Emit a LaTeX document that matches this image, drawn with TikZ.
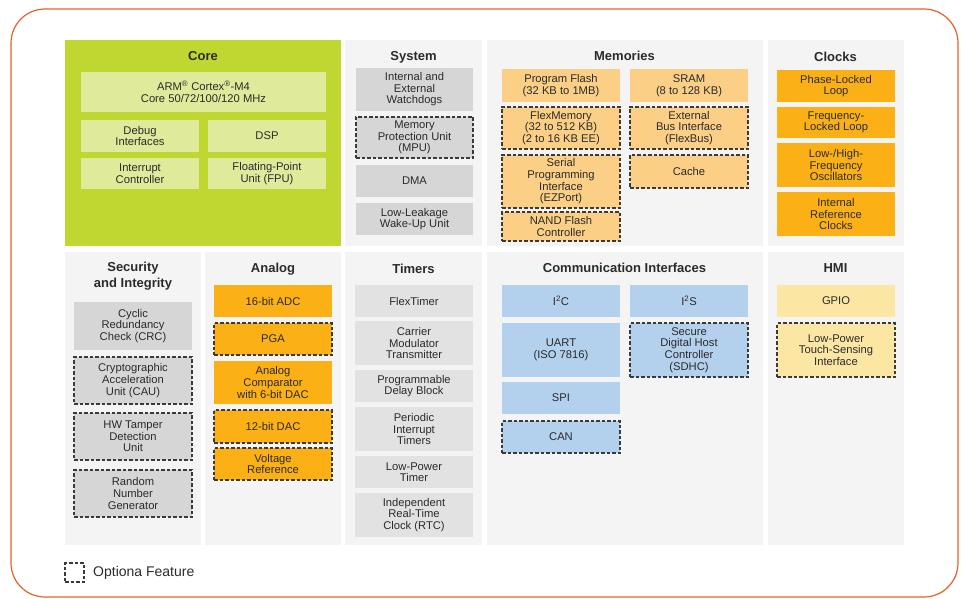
\documentclass[tikz,border=0pt]{standalone}
\usepackage{fontspec}
\setmainfont{Liberation Sans}
\definecolor{coregreen}{HTML}{BFD730}
\definecolor{corebox}{HTML}{E0EA9B}
\definecolor{panelgray}{HTML}{F4F4F4}
\definecolor{graybox}{HTML}{D6D6D6}
\definecolor{timerbox}{HTML}{E2E2E2}
\definecolor{memorange}{HTML}{FBCF85}
\definecolor{deeporange}{HTML}{FBB116}
\definecolor{commblue}{HTML}{B3D0EC}
\definecolor{hmiyellow}{HTML}{FCE6A4}
\definecolor{txt}{HTML}{2B2B2B}
\definecolor{frameorange}{HTML}{E8602C}
\definecolor{dashgray}{HTML}{3A3A3A}
\tikzset{
  panel/.style={fill=panelgray, draw=none, inner sep=0pt, outer sep=0pt},
  blk/.style={inner sep=0pt, outer sep=0pt, align=center, text=txt, font=\fontsize{11.2}{11.6}\selectfont},
  opt/.style={draw=dashgray, line width=1.1pt, dash pattern=on 3.5pt off 2pt},
  ttl/.style={text=txt, align=center, font=\fontsize{13}{16}\selectfont\bfseries, inner sep=0pt},
}
\newcommand\blkn[7]{\node[blk, #6, minimum width={#4pt-#2pt}, minimum height={#5pt-#3pt}] (#1) at ({(#2+#4)/2},{(#3+#5)/2}) {#7};}
\newcommand\pnl[6]{\node[panel, #6, minimum width={#4pt-#2pt}, minimum height={#5pt-#3pt}] (#1) at ({(#2+#4)/2},{(#3+#5)/2}) {};}
\begin{document}
\begin{tikzpicture}[x=1pt,y=-1pt]
\useasboundingbox (0,0) rectangle (961,599);
\draw[frameorange, line width=1.2pt, rounded corners=34pt] (11,9) rectangle (958,597);
% panels
\pnl{core}{65}{40}{341}{246}{fill=coregreen}
\pnl{sys}{345}{40}{482}{246}{}
\pnl{mem}{487}{40}{763}{246}{}
\pnl{clk}{768}{40}{904}{246}{}
\pnl{sec}{65}{252}{201}{545}{}
\pnl{ana}{205}{252}{341}{545}{}
\pnl{tmr}{345}{252}{482}{545}{}
\pnl{com}{487}{252}{763}{545}{}
\pnl{hmi}{768}{252}{904}{545}{}
% titles
\node[ttl] (tcore) at (203,56) {Core};
\node[ttl] (tsys) at (413.5,57) {System};
\node[ttl] (tmem) at (624.5,56) {Memories};
\node[ttl] (tclk) at (835.5,57) {Clocks};
\node[ttl] (tsec) at (133,276) {Security\\and Integrity};
\node[ttl] (tana) at (273,269) {Analog};
\node[ttl] (ttmr) at (413.5,269) {Timers};
\node[ttl] (tcom) at (624.5,268) {Communication Interfaces};
\node[ttl] (thmi) at (835.5,268) {HMI};
% core
\blkn{arm}{81}{72}{326}{112}{fill=corebox}{ARM\textsuperscript{®} Cortex\textsuperscript{®}-M4\\Core 50/72/100/120 MHz}
\blkn{dbg}{81}{120}{199}{152}{fill=corebox}{Debug\\Interfaces}
\blkn{dsp}{208}{120}{326}{152}{fill=corebox}{DSP}
\blkn{intc}{81}{158}{199}{189}{fill=corebox}{Interrupt\\Controller}
\blkn{fpu}{208}{158}{326}{189}{fill=corebox}{Floating-Point\\Unit (FPU)}
% system
\blkn{wdog}{356}{68}{473}{111}{fill=graybox}{Internal and\\External\\Watchdogs}
\blkn{mpu}{356}{117}{473}{158}{fill=graybox,opt}{Memory\\Protection Unit\\(MPU)}
\blkn{dma}{356}{165}{473}{197}{fill=graybox}{DMA}
\blkn{llwu}{356}{203}{473}{235}{fill=graybox}{Low-Leakage\\Wake-Up Unit}
% memories
\blkn{pflash}{502}{69}{620}{102}{fill=memorange}{Program Flash\\(32 KB to 1MB)}
\blkn{sram}{630}{69}{748}{102}{fill=memorange}{SRAM\\(8 to 128 KB)}
\blkn{flexm}{502}{107}{620}{149}{fill=memorange,opt}{FlexMemory\\(32 to 512 KB)\\(2 to 16 KB EE)}
\blkn{flexbus}{630}{107}{748}{149}{fill=memorange,opt}{External\\Bus Interface\\(FlexBus)}
\blkn{ezport}{502}{155}{620}{208}{fill=memorange,opt}{Serial\\Programming\\Interface\\(EZPort)}
\blkn{cache}{630}{155}{748}{188}{fill=memorange,opt}{Cache}
\blkn{nand}{502}{212}{620}{241}{fill=memorange,opt}{NAND Flash\\Controller}
% clocks
\blkn{pll}{777}{70}{895}{102}{fill=deeporange}{Phase-Locked\\Loop}
\blkn{fll}{777}{107}{895}{138}{fill=deeporange}{Frequency-\\Locked Loop}
\blkn{osc}{777}{143}{895}{187}{fill=deeporange}{Low-/High-\\Frequency\\Oscillators}
\blkn{irc}{777}{192}{895}{236}{fill=deeporange}{Internal\\Reference\\Clocks}
% security
\blkn{crc}{74}{302}{192}{350}{fill=graybox}{Cyclic\\Redundancy\\Check (CRC)}
\blkn{cau}{74}{357}{192}{404}{fill=graybox,opt}{Cryptographic\\Acceleration\\Unit (CAU)}
\blkn{tamper}{74}{413}{192}{460}{fill=graybox,opt}{HW Tamper\\Detection\\Unit}
\blkn{rng}{74}{470}{192}{517}{fill=graybox,opt}{Random\\Number\\Generator}
% analog
\blkn{adc}{214}{285}{332}{317}{fill=deeporange}{16-bit ADC}
\blkn{pga}{214}{323}{332}{355}{fill=deeporange,opt}{PGA}
\blkn{cmp}{214}{361}{332}{404}{fill=deeporange}{Analog\\Comparator\\with 6-bit DAC}
\blkn{dac}{214}{410}{332}{443}{fill=deeporange,opt}{12-bit DAC}
\blkn{vref}{214}{448}{332}{480}{fill=deeporange,opt}{Voltage\\Reference}
% timers
\blkn{ftm}{355}{285}{473}{317}{fill=timerbox}{FlexTimer}
\blkn{cmt}{355}{321}{473}{365}{fill=timerbox}{Carrier\\Modulator\\Transmitter}
\blkn{pdb}{355}{370}{473}{402}{fill=timerbox}{Programmable\\Delay Block}
\blkn{pit}{355}{407}{473}{451}{fill=timerbox}{Periodic\\Interrupt\\Timers}
\blkn{lpt}{355}{456}{473}{488}{fill=timerbox}{Low-Power\\Timer}
\blkn{rtc}{355}{493}{473}{537}{fill=timerbox}{Independent\\Real-Time\\Clock (RTC)}
% communication
\blkn{iic}{502}{285}{620}{317}{fill=commblue}{I\textsuperscript{2}C}
\blkn{iis}{630}{285}{748}{317}{fill=commblue}{I\textsuperscript{2}S}
\blkn{uart}{502}{323}{620}{377}{fill=commblue}{UART\\(ISO 7816)}
\blkn{sdhc}{630}{323}{748}{377}{fill=commblue,opt}{Secure\\Digital Host\\Controller\\(SDHC)}
\blkn{spi}{502}{382}{620}{414}{fill=commblue}{SPI}
\blkn{can}{502}{421}{620}{453}{fill=commblue,opt}{CAN}
% HMI
\blkn{gpio}{777}{285}{895}{317}{fill=hmiyellow}{GPIO}
\blkn{tsi}{777}{323}{895}{377}{fill=hmiyellow,opt}{Low-Power\\Touch-Sensing\\Interface}
% legend
\blkn{legbox}{65}{563}{84}{582}{opt}{}
\node[anchor=west, text=txt, font=\fontsize{14}{16}\selectfont, inner sep=0pt] (legtxt) at (93,572.5) {Optiona Feature};
\end{tikzpicture}
\end{document}
